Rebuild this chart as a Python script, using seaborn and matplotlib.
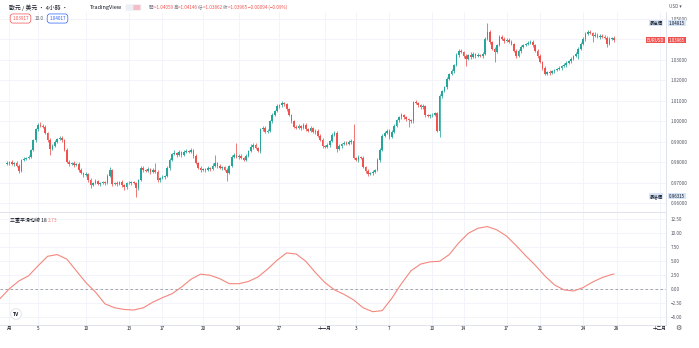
import matplotlib
matplotlib.use("Agg")
import matplotlib.pyplot as plt
from matplotlib.patches import FancyBboxPatch
import numpy as np
import pandas as pd
import seaborn as sns

# ---------------- data: EURUSD 4h bars ----------------
close = [
    0.9798, 0.9803, 0.9793, 0.9798, 0.9783, 0.9759, 0.9813, 0.9818, 0.9823, 0.9828,
    0.9862, 0.9911, 0.9961, 0.9985, 0.9980, 0.9975, 0.9946, 0.9911, 0.9867, 0.9882,
    0.9901, 0.9916, 0.9921, 0.9911, 0.9862, 0.9803, 0.9793, 0.9798, 0.9788, 0.9793,
    0.9764, 0.9749, 0.9739, 0.9744, 0.9714, 0.9690, 0.9700, 0.9709, 0.9695, 0.9700,
    0.9704, 0.9700, 0.9734, 0.9764, 0.9695, 0.9700, 0.9695, 0.9704, 0.9690, 0.9680,
    0.9700, 0.9700, 0.9704, 0.9700, 0.9675, 0.9714, 0.9773, 0.9764, 0.9759, 0.9768,
    0.9754, 0.9764, 0.9754, 0.9714, 0.9724, 0.9729, 0.9734, 0.9773, 0.9813, 0.9842,
    0.9847, 0.9837, 0.9852, 0.9837, 0.9852, 0.9857, 0.9852, 0.9862, 0.9833, 0.9798,
    0.9773, 0.9764, 0.9768, 0.9764, 0.9773, 0.9768, 0.9783, 0.9798, 0.9783, 0.9773,
    0.9778, 0.9764, 0.9749, 0.9783, 0.9828, 0.9837, 0.9828, 0.9833, 0.9823, 0.9813,
    0.9833, 0.9857, 0.9877, 0.9887, 0.9872, 0.9857, 0.9961, 0.9970, 0.9951, 0.9956,
    1.0000, 1.0034, 1.0049, 1.0074, 1.0079, 1.0089, 1.0084, 1.0059, 1.0030, 1.0000,
    0.9975, 0.9970, 0.9980, 0.9970, 0.9985, 0.9961, 0.9956, 0.9966, 0.9951, 0.9956,
    0.9931, 0.9911, 0.9882, 0.9877, 0.9887, 0.9906, 0.9936, 0.9946, 0.9867, 0.9882,
    0.9892, 0.9897, 0.9892, 0.9901, 0.9906, 0.9823, 0.9813, 0.9828, 0.9823, 0.9778,
    0.9759, 0.9744, 0.9749, 0.9754, 0.9764, 0.9813, 0.9862, 0.9931, 0.9946, 0.9956,
    0.9926, 0.9951, 0.9980, 1.0005, 1.0020, 1.0030, 1.0020, 1.0010, 1.0005, 1.0000,
    1.0094, 1.0089, 1.0079, 1.0069, 1.0074, 1.0030, 1.0025, 1.0030, 1.0034, 1.0039,
    0.9956, 1.0123, 1.0148, 1.0167, 1.0207, 1.0232, 1.0246, 1.0276, 1.0325, 1.0345,
    1.0340, 1.0320, 1.0305, 1.0325, 1.0315, 1.0330, 1.0320, 1.0325, 1.0320, 1.0330,
    1.0404, 1.0438, 1.0389, 1.0355, 1.0340, 1.0374, 1.0414, 1.0404, 1.0394, 1.0399,
    1.0389, 1.0379, 1.0345, 1.0320, 1.0345, 1.0364, 1.0374, 1.0379, 1.0384, 1.0389,
    1.0374, 1.0345, 1.0320, 1.0291, 1.0261, 1.0232, 1.0241, 1.0236, 1.0246, 1.0251,
    1.0256, 1.0261, 1.0271, 1.0276, 1.0286, 1.0296, 1.0305, 1.0320, 1.0330, 1.0355,
    1.0379, 1.0404, 1.0429, 1.0438, 1.0433, 1.0419, 1.0424, 1.0414, 1.0419, 1.0414,
    1.0409, 1.0379, 1.0404, 1.04059, 1.03965,
]
first_open = 0.9795

# wick lengths in pips beyond the candle body
upper_wick = [
    8, 6, 10, 5, 7, 12, 6, 9, 5, 8,
    6, 5, 7, 10, 14, 8, 6, 5, 7, 6,
    8, 5, 9, 6, 5, 7, 10, 6, 8, 5,
    7, 9, 6, 12, 5, 8, 6, 10, 7, 5,
    8, 6, 9, 14, 6, 5, 8, 7, 10, 6,
    5, 9, 6, 8, 7, 6, 12, 8, 5, 9,
    6, 8, 34, 7, 5, 9, 6, 8, 10, 6,
    12, 6, 8, 5, 9, 7, 6, 10, 5, 8,
    6, 9, 5, 7, 8, 6, 14, 40, 6, 9,
    7, 5, 8, 6, 10, 7, 60, 8, 6, 5,
    9, 6, 12, 8, 7, 5, 8, 10, 6, 9,
    8, 6, 5, 9, 7, 12, 6, 8, 5, 7,
    6, 9, 8, 5, 10, 7, 6, 12, 8, 5,
    7, 6, 9, 5, 8, 6, 10, 7, 6, 9,
    5, 8, 6, 10, 7, 80, 6, 9, 5, 8,
    6, 7, 5, 9, 6, 8, 7, 10, 6, 5,
    8, 6, 9, 7, 5, 10, 6, 8, 7, 6,
    6, 9, 5, 8, 10, 6, 7, 5, 9, 6,
    8, 10, 7, 6, 9, 5, 8, 6, 10, 7,
    9, 6, 8, 5, 12, 7, 6, 9, 5, 8,
    7, 43.5, 8, 6, 9, 5, 10, 7, 6, 8,
    6, 9, 5, 8, 7, 10, 6, 5, 9, 7,
    8, 6, 10, 7, 5, 9, 6, 8, 5, 7,
    6, 9, 5, 8, 7, 6, 10, 5, 8, 6,
    9, 7, 6, 10, 8, 5, 12, 7, 6, 9,
    8, 6, 10, 7, 8.7,
]
lower_wick = [
    6, 9, 5, 8, 7, 10, 6, 5, 8, 6,
    7, 5, 9, 6, 8, 5, 7, 10, 30, 6,
    5, 8, 6, 9, 7, 6, 10, 5, 8, 6,
    9, 6, 8, 5, 10, 12, 6, 7, 5, 9,
    6, 8, 5, 7, 10, 6, 9, 5, 8, 12,
    7, 5, 9, 6, 43.5, 8, 6, 10, 5, 7,
    8, 6, 5, 9, 7, 6, 8, 5, 10, 6,
    5, 8, 6, 9, 7, 5, 8, 6, 10, 7,
    6, 9, 5, 8, 6, 10, 7, 5, 8, 6,
    9, 6, 40, 7, 5, 8, 6, 10, 7, 5,
    6, 8, 5, 9, 7, 6, 10, 5, 8, 6,
    7, 9, 6, 5, 8, 6, 10, 7, 5, 9,
    8, 6, 5, 10, 7, 6, 9, 5, 8, 12,
    6, 8, 10, 7, 5, 9, 6, 8, 15, 6,
    9, 5, 7, 6, 10, 8, 6, 9, 5, 7,
    8, 12, 6, 9, 5, 7, 10, 6, 8, 5,
    9, 6, 7, 5, 8, 10, 6, 9, 30, 6,
    8, 5, 9, 7, 6, 10, 5, 8, 6, 7,
    5, 30, 8, 6, 9, 7, 5, 10, 6, 8,
    7, 9, 34, 6, 8, 5, 10, 7, 6, 9,
    8, 6, 10, 7, 49, 6, 8, 5, 9, 7,
    6, 8, 5, 10, 7, 9, 6, 8, 5, 7,
    9, 6, 8, 5, 10, 7, 6, 9, 5, 8,
    7, 6, 9, 5, 8, 6, 10, 7, 5, 25,
    8, 6, 9, 7, 5, 30, 8, 6, 10, 7,
    6, 15, 8, 7, 10.3,
]

# TRIX(18) readings at selected bars
trix_bar = [-3, 1, 5, 9, 13, 17, 21, 25, 29, 33, 37, 41, 45, 49, 53, 57, 61, 65,
            69, 73, 77, 81, 85, 89, 93, 97, 101, 105, 109, 113, 117, 121, 125, 129,
            133, 137, 141, 145, 149, 153, 157, 161, 165, 169, 173, 177, 181, 185,
            189, 193, 197, 201, 205, 209, 213, 217, 221, 225, 229, 233, 237, 241,
            245, 249, 253, 254]
trix_val = [-1.7, 0.1, 1.5, 2.4, 4.2, 5.9, 6.2, 5.4, 3.3, 1.2, -0.5, -2.6, -3.3, -3.6,
            -3.7, -3.3, -2.3, -1.5, -0.8, 0.4, 1.8, 2.7, 2.5, 1.9, 1.0, 1.0, 1.4, 2.2,
            3.6, 5.2, 6.5, 6.3, 5.0, 3.0, 1.2, -0.1, -0.9, -1.9, -3.3, -4.0, -3.8,
            -1.6, 1.0, 3.3, 4.5, 4.9, 5.0, 6.2, 8.3, 10.0, 10.9, 11.2, 10.6, 9.5, 7.8,
            6.0, 4.3, 2.4, 0.8, -0.1, -0.3, 0.3, 1.3, 2.1, 2.65, 2.73]

date_pos = [1, 13, 33, 51, 65, 82, 97, 114, 133, 146, 160, 178, 191, 209, 223, 241, 255, 273]
date_lab = ["月", "5", "10", "13", "17", "20", "24", "27", "十一月", "3", "7", "10",
            "14", "17", "21", "24", "28", "十二月"]

price_ticks = [0.96, 0.97, 0.98, 0.99, 1.00, 1.01, 1.02, 1.03, 1.04, 1.05]
trix_ticks = [-5.0, -2.5, 0.0, 2.5, 5.0, 7.5, 10.0, 12.5]

bid, spread, ask = 1.03917, 10.0, 1.04017

# ---------------- frame ----------------
c = np.array(close)
o = np.array([first_open] + close[:-1])
hi = np.maximum(o, c) + np.array(upper_wick) * 1e-4
lo = np.minimum(o, c) - np.array(lower_wick) * 1e-4
bars = pd.DataFrame({"bar": np.arange(len(c)), "open": o, "high": hi, "low": lo, "close": c})
bars["up"] = bars["close"] >= bars["open"]
trix = pd.DataFrame({"bar": trix_bar, "trix": trix_val})

UP, DOWN = "#26a69a", "#ef5350"
GRID, EDGE, TXT = "#f0f3fa", "#e0e3eb", "#50535e"

sns.set_theme(style="white")
plt.rcParams["font.family"] = ["Noto Sans CJK TC", "DejaVu Sans"]
plt.rcParams["axes.unicode_minus"] = True

W, H = 699, 348
fig = plt.figure(figsize=(W / 100, H / 100), dpi=100)
fig.patch.set_facecolor("white")


def fx(px):
    return px / W


def fy(py):
    return 1 - py / H


ax1 = fig.add_axes([0, fy(212), fx(666), (212 - 12) / H])
ax2 = fig.add_axes([0, fy(325), fx(666), (325 - 213) / H])
XL = (-2.93, 275.7)

# ---------------- candles ----------------
cols = np.where(bars["up"], UP, DOWN)
body_lo = np.minimum(bars["open"], bars["close"])
body_h = np.maximum(np.abs(bars["close"] - bars["open"]), 0.00008)
ax1.vlines(bars["bar"], bars["low"], bars["high"], colors=cols, lw=0.55, zorder=2)
ax1.bar(bars["bar"], body_h, bottom=body_lo, width=0.7, color=cols, lw=0, zorder=3)
ax1.set_xlim(*XL)
ax1.set_ylim(0.95585, 1.05341)

# ---------------- TRIX ----------------
sns.lineplot(data=trix, x="bar", y="trix", ax=ax2, color="#f4877d", lw=0.8, zorder=3)
ax2.axhline(0, color="#9598a1", lw=0.6, ls=(0, (3, 3)), zorder=2)
ax2.set_xlim(*XL)
ax2.set_ylim(-6.375, 13.625)
ax2.set_xlabel("")
ax2.set_ylabel("")

# ---------------- axes styling ----------------
last = bars["close"].iloc[-1]
for ax, ticks, fmt in ((ax1, price_ticks, "{:.5f}"), (ax2, trix_ticks, "{:.2f}")):
    ax.set_facecolor("white")
    ax.set_yticks(ticks)
    labels = [fmt.format(v).replace("-", "\u2212") for v in ticks]
    if ax is ax1:
        # the level under the last-price tag is hidden by the tag itself
        labels = ["" if abs(v - last) < 0.004 else s for v, s in zip(ticks, labels)]
    ax.set_yticklabels(labels)
    ax.set_xticks(date_pos)
    ax.grid(True, color=GRID, lw=0.6)
    ax.set_axisbelow(True)
    ax.yaxis.tick_right()
    ax.tick_params(axis="y", length=0, pad=3.2, labelsize=3.3, labelcolor=TXT)
    for s in ("top", "left"):
        ax.spines[s].set_visible(False)
    for s in ("right", "bottom"):
        ax.spines[s].set_color(EDGE)
        ax.spines[s].set_linewidth(0.7)

ax1.tick_params(axis="x", length=0, labelbottom=False)
ax2.set_xticklabels(date_lab)
ax2.tick_params(axis="x", length=0, pad=0.6, labelsize=3.3, labelcolor="#131722")

# ---------------- price-scale markers ----------------
def ypx_price(p):
    y0, y1 = ax1.get_ylim()
    return 12 + (y1 - p) / (y1 - y0) * 200


def tag(x, y, s, fc, tc, ha="left"):
    fig.text(fx(x), fy(y), s, fontsize=3.2, color=tc, ha=ha, va="center",
             bbox=dict(boxstyle="square,pad=0.12", fc=fc, ec="none"), zorder=5)


hmax, lmin = bars["high"].max(), bars["low"].min()
yh, yl, yc = ypx_price(hmax) + 0.6, ypx_price(lmin) - 0.6, ypx_price(last)
tag(656, yh, "最高價", "#d6e4f7", "#131722", ha="center")
tag(669, yh, f"{hmax:.5f}", "#d6e4f7", "#131722")
tag(655.5, yc, "EURUSD", DOWN, "white", ha="center")
tag(669, yc, f"{last:.5f}", DOWN, "white")
tag(656, yl, "最低價", "#d6e4f7", "#131722", ha="center")
tag(669, yl, f"{lmin:.5f}", "#d6e4f7", "#131722")
fig.text(fx(669), fy(6.5), "USD \u25be", fontsize=3.3, color=TXT, va="center")

# ---------------- legend rows ----------------
renderer = fig.canvas.get_renderer()


def chain(x, y, pieces, size):
    for s, col in pieces:
        t = fig.text(fx(x), fy(y), s, fontsize=size, color=col, ha="left", va="center")
        x += t.get_window_extent(renderer=renderer).width


chain(9, 7.5, [("歐元 / 美元 · 4小時 ·", "#131722")], 4.2)
chain(90, 7.5, [("TradingView", "#131722")], 4.0)
fig.add_artist(FancyBboxPatch((fx(127), fy(10)), fx(13), 5 / H,
                              boxstyle="round,pad=0.002", fc="#eceff5", ec="none",
                              transform=fig.transFigure))
fig.add_artist(FancyBboxPatch((fx(134), fy(9.6)), fx(5.5), 4.2 / H,
                              boxstyle="round,pad=0.001", fc="#f7bcc4", ec="none",
                              transform=fig.transFigure))
op = bars["open"].iloc[-1]
chg = last - op
pct = chg / op * 100
GR = "#787b86"
chain(149, 7.5, [
    ("開", GR), (f"={op:.5f} ", DOWN),
    ("高", GR), (f"={bars['high'].iloc[-1]:.5f} ", DOWN),
    ("低", GR), (f"={bars['low'].iloc[-1]:.5f} ", DOWN),
    ("收", GR), (f"={last:.5f} ", DOWN),
    (f"{chg:+.5f} ({pct:+.2f}%)".replace("-", "\u2212"), DOWN),
], 3.3)

fig.text(fx(20.5), fy(18.5), f"{bid:.5f}", fontsize=3.3, color=DOWN, ha="center", va="center",
         bbox=dict(boxstyle="round,pad=0.45,rounding_size=0.6", fc="white", ec=DOWN, lw=0.5))
fig.text(fx(39.5), fy(18.5), f"{spread:.1f}", fontsize=3.3, color=TXT, ha="center", va="center")
fig.text(fx(57.5), fy(18.5), f"{ask:.5f}", fontsize=3.3, color="#2962ff", ha="center", va="center",
         bbox=dict(boxstyle="round,pad=0.45,rounding_size=0.6", fc="white", ec="#2962ff", lw=0.5))

chain(10, 221, [("三重平滑均線 18 ", "#131722"), (f"{trix_val[-1]:.2f}", "#f4877d")], 3.6)

# logo badge and settings glyph
fig.text(fx(16), fy(314), "TV", fontsize=3.6, weight="bold", color="#131722", ha="center",
         va="center", bbox=dict(boxstyle="circle,pad=0.45", fc="white", ec=EDGE, lw=0.6))
fig.text(fx(678.5), fy(327.5), "\u2699", fontsize=5, color=TXT, ha="center", va="center",
         family="DejaVu Sans")

fig.savefig("out.png", dpi=100, facecolor="white")
